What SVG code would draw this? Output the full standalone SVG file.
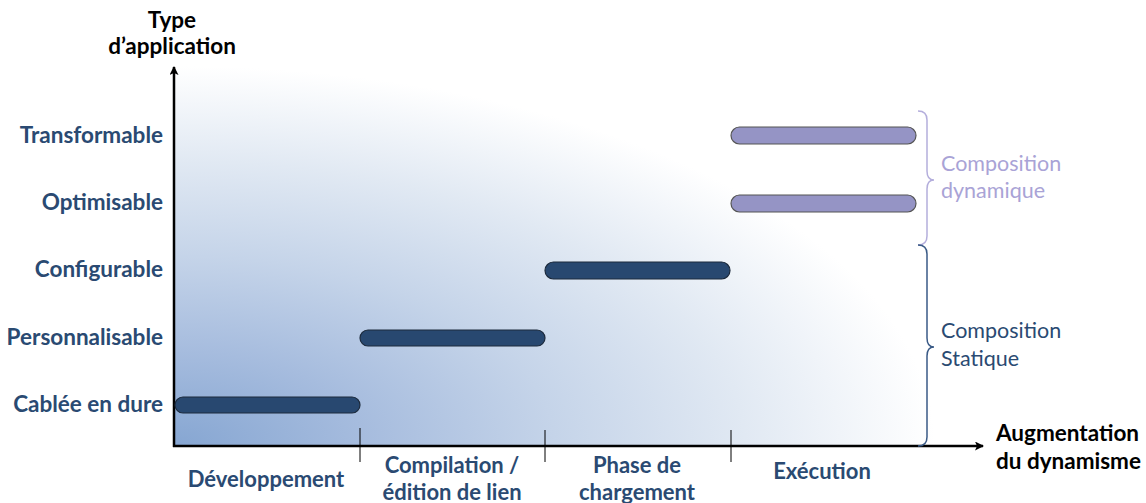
<svg xmlns="http://www.w3.org/2000/svg" width="1146" height="503" viewBox="0 0 1146 503">
<style>
.lbl{font-family:Lato,"Open Sans","Liberation Sans",sans-serif;font-weight:bold;font-size:22.5px;fill:#2a4a72}
.ax{font-family:Lato,"Open Sans","Liberation Sans",sans-serif;font-weight:bold;font-size:22.5px;fill:#000}
.ph{font-family:Lato,"Open Sans","Liberation Sans",sans-serif;font-weight:bold;font-size:22px;fill:#2a4a72;text-anchor:middle}
.cd{font-family:Lato,"Open Sans","Liberation Sans",sans-serif;font-size:21.5px;fill:#a9a3d6}
.cs{font-family:Lato,"Open Sans","Liberation Sans",sans-serif;font-size:21.5px;fill:#2a4a72}
.dark{fill:#284870;stroke:#1c2a3c;stroke-width:1.2}
.light{fill:#9594c5;stroke:#555;stroke-width:1.2}
.axis{stroke:#000;stroke-width:2.5;fill:none}
.tick{stroke:#000;stroke-width:1}
</style>
<defs>
<radialGradient id="bg" cx="0" cy="1" r="1" fx="0" fy="1">
<stop offset="0" stop-color="#86a6d2"/>
<stop offset="0.25" stop-color="#a6bcde"/>
<stop offset="0.5" stop-color="#c5d4e9"/>
<stop offset="0.75" stop-color="#e1e9f3"/>
<stop offset="1" stop-color="#ffffff"/>
</radialGradient>
<marker id="arr" markerWidth="9" markerHeight="9" refX="8" refY="4.5" orient="auto" markerUnits="userSpaceOnUse" viewBox="0 0 9 9">
<path d="M0,0 L9,4.5 L0,9 L2,4.5 Z" fill="#000"/>
</marker>
</defs>
<rect x="175" y="66" width="760" height="380" fill="url(#bg)"/>
<g id="axes">
<line class="axis" x1="174" y1="447" x2="174" y2="67" marker-end="url(#arr)"/>
<line class="axis" x1="173" y1="446" x2="983" y2="446" marker-end="url(#arr)"/>
<line class="tick" x1="360" y1="428" x2="360" y2="462"/>
<line class="tick" x1="545" y1="430" x2="545" y2="462"/>
<line class="tick" x1="731" y1="430" x2="731" y2="462"/>
</g>
<g id="axis-labels">
<text class="ax" x="172" y="28" text-anchor="middle">Type</text>
<text class="ax" x="172" y="54" text-anchor="middle">d’application</text>
<text class="ax" x="996" y="441">Augmentation</text>
<text class="ax" x="996" y="469">du dynamisme</text>
</g>
<g id="y-labels">
<text class="lbl" x="163" y="143" text-anchor="end">Transformable</text>
<text class="lbl" x="163" y="210" text-anchor="end">Optimisable</text>
<text class="lbl" x="163" y="277" text-anchor="end">Configurable</text>
<text class="lbl" x="163" y="345" text-anchor="end">Personnalisable</text>
<text class="lbl" x="163" y="412" text-anchor="end">Cablée en dure</text>
</g>
<g id="x-labels">
<text class="ph" x="266" y="487">Développement</text>
<text class="ph" x="452" y="473">Compilation /</text>
<text class="ph" x="452" y="500">édition de lien</text>
<text class="ph" x="637" y="473">Phase de</text>
<text class="ph" x="637" y="500">chargement</text>
<text class="ph" x="822" y="479">Exécution</text>
</g>
<g id="bar-cablee"><rect class="dark" x="175" y="397" width="185" height="16" rx="8"/></g>
<g id="bar-personnalisable"><rect class="dark" x="360" y="330" width="185" height="16" rx="8"/></g>
<g id="bar-configurable"><rect class="dark" x="545" y="262" width="185" height="17" rx="8.5"/></g>
<g id="bar-optimisable"><rect class="light" x="731" y="195" width="185" height="17" rx="8.5"/></g>
<g id="bar-transformable"><rect class="light" x="731" y="127" width="185" height="17" rx="8.5"/></g>
<g id="brace-dynamique">
<path d="M918,111 Q927,111 927,120 L927,171 Q927,180 934,180 Q927,180 927,189 L927,236 Q927,245 918,245" fill="none" stroke="#b4aedc" stroke-width="1.5"/>
<text class="cd" x="941" y="171">Composition</text>
<text class="cd" x="941" y="198">dynamique</text>
</g>
<g id="brace-statique">
<path d="M918,245 Q927,245 927,254 L927,338 Q927,347 934,347 Q927,347 927,356 L927,437 Q927,446 918,446" fill="none" stroke="#3a5a86" stroke-width="1.5"/>
<text class="cs" x="941" y="338">Composition</text>
<text class="cs" x="941" y="366">Statique</text>
</g>
</svg>
